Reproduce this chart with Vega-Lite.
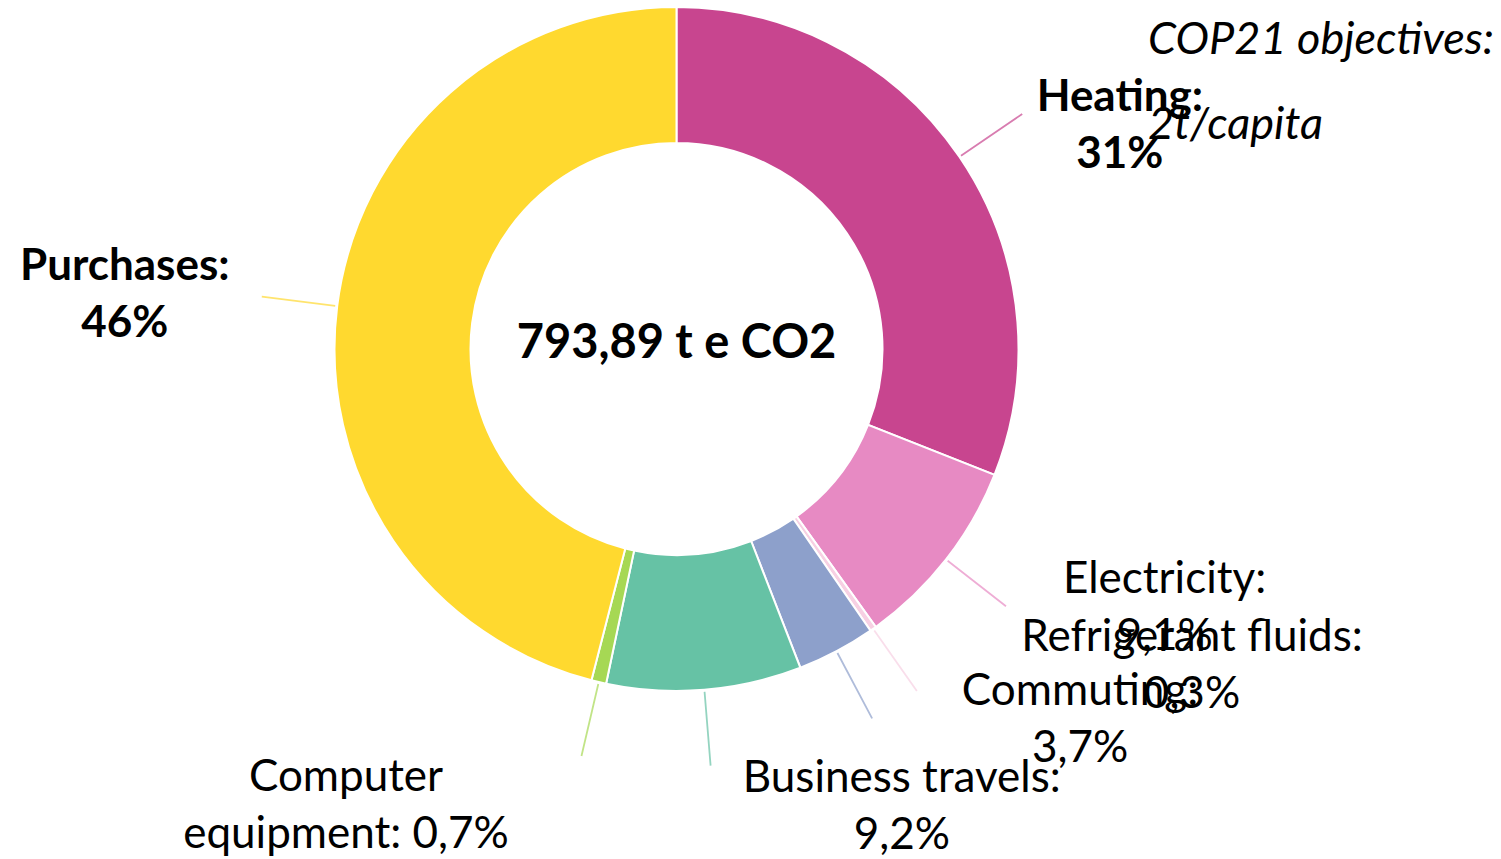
{
  "$schema": "https://vega.github.io/schema/vega-lite/v6.json",
  "width": 1353,
  "height": 698,
  "autosize": {"type": "none"},
  "padding": {"left": 0, "top": 0, "right": 148, "bottom": 161},
  "background": "#ffffff",
  "config": {"view": {"stroke": null}, "font": "Lato"},
  "title": {
    "text": "COP21 objectives:",
    "subtitle": "2t/capita",
    "orient": "top",
    "anchor": "start",
    "frame": "group",
    "offset": 0,
    "dx": 1148,
    "dy": 148,
    "font": "Lato",
    "fontSize": 45,
    "fontStyle": "italic",
    "fontWeight": "normal",
    "color": "#000000",
    "subtitleFont": "Lato",
    "subtitleFontSize": 45,
    "subtitleFontStyle": "italic",
    "subtitleColor": "#000000",
    "subtitlePadding": 40
  },
  "data": {
    "values": [
      {"category": "Heating", "rank": 1, "pct": 31, "label": "Heating:\n31%"},
      {"category": "Electricity", "rank": 2, "pct": 9.1, "label": "Electricity:\n9,1%"},
      {"category": "Refrigerant fluids", "rank": 3, "pct": 0.3, "label": "Refrigerant fluids:\n0,3%"},
      {"category": "Commuting", "rank": 4, "pct": 3.7, "label": "Commuting:\n3,7%"},
      {"category": "Business travels", "rank": 5, "pct": 9.2, "label": "Business travels:\n9,2%"},
      {"category": "Computer equipment", "rank": 6, "pct": 0.7, "label": "Computer\nequipment: 0,7%"},
      {"category": "Purchases", "rank": 7, "pct": 46, "label": "Purchases:\n46%"}
    ]
  },
  "layer": [
    {
      "mark": {"type": "arc", "innerRadius": 206, "outerRadius": 342, "stroke": "#ffffff", "strokeWidth": 2},
      "encoding": {
        "theta": {"field": "pct", "type": "quantitative", "stack": true},
        "order": {"field": "rank", "type": "quantitative"},
        "color": {
          "field": "category", "type": "nominal", "legend": null,
          "scale": {
            "domain": ["Heating", "Electricity", "Refrigerant fluids", "Commuting", "Business travels", "Computer equipment", "Purchases"],
            "range": ["#C8458F", "#E78AC3", "#F7D0E3", "#8DA0CB", "#66C2A5", "#A6D854", "#FFD92F"]
          }
        }
      }
    },
    {
      "mark": {"type": "arc", "innerRadius": 344, "outerRadius": 418, "padAngle": 2, "filled": false, "strokeWidth": 1.8, "strokeOpacity": 0.7},
      "encoding": {
        "theta": {"field": "pct", "type": "quantitative", "stack": true},
        "order": {"field": "rank", "type": "quantitative"},
        "color": {"field": "category", "type": "nominal", "legend": null}
      }
    },
    {
      "mark": {"type": "text", "radius": 420, "dx": 96, "dy": -15, "font": "Lato", "fontSize": 44, "fontWeight": "bold", "lineBreak": "\n", "lineHeight": 57, "align": "center", "baseline": "middle", "color": "#000000"},
      "encoding": {
        "theta": {"field": "pct", "type": "quantitative", "stack": true},
        "order": {"field": "rank", "type": "quantitative"},
        "text": {"condition": {"test": "datum.category === 'Heating'", "field": "label"}, "value": ""}
      }
    },
    {
      "mark": {"type": "text", "radius": 420, "dx": 157, "dy": -27, "font": "Lato", "fontSize": 44, "fontWeight": "normal", "lineBreak": "\n", "lineHeight": 57, "align": "center", "baseline": "middle", "color": "#000000"},
      "encoding": {
        "theta": {"field": "pct", "type": "quantitative", "stack": true},
        "order": {"field": "rank", "type": "quantitative"},
        "text": {"condition": {"test": "datum.category === 'Electricity'", "field": "label"}, "value": ""}
      }
    },
    {
      "mark": {"type": "text", "radius": 420, "dx": 274, "dy": -55, "font": "Lato", "fontSize": 44, "fontWeight": "normal", "lineBreak": "\n", "lineHeight": 57, "align": "center", "baseline": "middle", "color": "#000000"},
      "encoding": {
        "theta": {"field": "pct", "type": "quantitative", "stack": true},
        "order": {"field": "rank", "type": "quantitative"},
        "text": {"condition": {"test": "datum.category === 'Refrigerant fluids'", "field": "label"}, "value": ""}
      }
    },
    {
      "mark": {"type": "text", "radius": 420, "dx": 207, "dy": -28, "font": "Lato", "fontSize": 44, "fontWeight": "normal", "lineBreak": "\n", "lineHeight": 57, "align": "center", "baseline": "middle", "color": "#000000"},
      "encoding": {
        "theta": {"field": "pct", "type": "quantitative", "stack": true},
        "order": {"field": "rank", "type": "quantitative"},
        "text": {"condition": {"test": "datum.category === 'Commuting'", "field": "label"}, "value": ""}
      }
    },
    {
      "mark": {"type": "text", "radius": 420, "dx": 191, "dy": 11, "font": "Lato", "fontSize": 44, "fontWeight": "normal", "lineBreak": "\n", "lineHeight": 57, "align": "center", "baseline": "middle", "color": "#000000"},
      "encoding": {
        "theta": {"field": "pct", "type": "quantitative", "stack": true},
        "order": {"field": "rank", "type": "quantitative"},
        "text": {"condition": {"test": "datum.category === 'Business travels'", "field": "label"}, "value": ""}
      }
    },
    {
      "mark": {"type": "text", "radius": 420, "dx": -235, "dy": 20, "font": "Lato", "fontSize": 44, "fontWeight": "normal", "lineBreak": "\n", "lineHeight": 57, "align": "center", "baseline": "middle", "color": "#000000"},
      "encoding": {
        "theta": {"field": "pct", "type": "quantitative", "stack": true},
        "order": {"field": "rank", "type": "quantitative"},
        "text": {"condition": {"test": "datum.category === 'Computer equipment'", "field": "label"}, "value": ""}
      }
    },
    {
      "mark": {"type": "text", "radius": 420, "dx": -135, "dy": -29, "font": "Lato", "fontSize": 44, "fontWeight": "bold", "lineBreak": "\n", "lineHeight": 57, "align": "center", "baseline": "middle", "color": "#000000"},
      "encoding": {
        "theta": {"field": "pct", "type": "quantitative", "stack": true},
        "order": {"field": "rank", "type": "quantitative"},
        "text": {"condition": {"test": "datum.category === 'Purchases'", "field": "label"}, "value": ""}
      }
    },
    {
      "data": {"values": [{"total": "793,89 t e CO2"}]},
      "mark": {"type": "text", "font": "Lato", "fontSize": 47, "fontWeight": "bold", "align": "center", "baseline": "middle", "dy": -5, "color": "#000000"},
      "encoding": {"text": {"field": "total", "type": "nominal"}}
    }
  ]
}
